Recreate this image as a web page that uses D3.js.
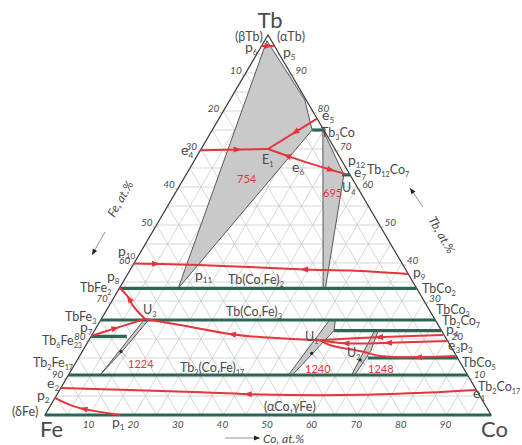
<!DOCTYPE html>
<html>
<head>
<meta charset="utf-8">
<script src="https://cdn.jsdelivr.net/npm/d3@7"></script>
<style>
  html, body { margin: 0; padding: 0; background: #fff; }
  svg { display: block; }
  text { font-family: Lato, "Open Sans", sans-serif; fill: #4a4a4a; }
</style>
</head>
<body>
<svg id="chart" width="522" height="445"></svg>
<script>
// ---- Data: compositions as [Co at.%, Tb at.%] (Fe = remainder) ----
const tickValues = [10, 20, 30, 40, 50, 60, 70, 80, 90];

// Compound / solid-solution lines
const lineTb3Co      = [[22.4, 75], [25, 75]];
const lineTb12Co7    = [[35.0, 63.2], [36.8, 63.2]];
const lineTbCoFe2    = [[0, 33.33], [66.67, 33.33]];
const lineTbCoFe3    = [[0, 25], [75, 25]];
const lineTb2Co7     = [[53.7, 22.22], [77.78, 22.22]];
const lineTb6Fe23    = [[0, 20.69], [8.0, 20.69]];
const lineTbCo5      = [[64.9, 15.0], [85.0, 15.0]];
const lineTb2CoFe17  = [[0, 10.53], [89.47, 10.53]];
const lineCoFe       = [[0, 0], [100, 0]];

// Three-phase fields
const field754  = [[0.5, 98.5], [16.8, 82.9], [22.4, 75], [13.2, 33.33]];
const field695  = [[24.8, 75], [35.4, 63.2], [46.2, 33.33], [45.7, 33.33]];
const field1224 = [[7.1, 10.53], [9.7, 25], [10.7, 25], [9.1, 17.6]];
const field1240 = [[49.3, 10.53], [51.3, 25], [52.6, 25], [53.7, 22.22], [50.2, 10.53]];
const field1248 = [[63.5, 10.53], [62.8, 22.22], [63.6, 22.22], [64.6, 17.0], [64.2, 10.53]];

// Invariant temperatures (°C) and their marker points
const invariantTemps = ["754", "695", "1224", "1240", "1248"];
const dots = [[8.7, 16.7], [51.7, 16.2], [63.4, 14.5]];

// Monovariant liquidus valleys
const curveP6P5  = [[0, 97.1], [2.9, 97.1]];
const curveE5E1  = [[22, 78], [15, 70]];
const curveE4E1  = [[0, 69.7], [15, 70]];
const curveE1U4  = [[15, 70], [20.2, 68.2], [25.0, 66.6], [35.6, 63.4]];
const curveP10P9 = [[0, 39.9], [14.6, 39.5], [39.1, 38.3], [49.4, 38.0], [62.9, 37.1]];
const curveP8U3  = [[0, 33.5], [3.1, 31.05], [5.4, 28.7], [8.0, 26.6], [9.8, 25.26]];
const curveP7U3  = [[0, 20.8], [4.3, 22.8], [9.8, 25.26]];
const curveU3U1  = [[9.8, 25.26], [18.4, 23.7], [31.55, 21.2], [42.6, 20.2], [51.8, 19.7]];
const curveP4U1  = [[78.7, 21.05], [64.1, 20.45], [51.8, 19.7]];
const curveE3U1  = [[80.7, 19.5], [67.4, 19.0], [57.8, 18.87], [51.8, 19.7]];
const curveP3U1  = [[84.2, 15.5], [76.5, 15.2], [67.35, 15.53], [63.0, 16.66], [54.7, 18.4], [51.8, 19.7]];
const curveE2E1  = [[0, 7.1], [32.0, 6.0], [45.5, 5.4], [68.0, 5.3], [83.0, 5.9], [93.4, 6.6]];
const curveP2P1  = [[0, 4.5], [5.6, 2.2], [16.9, 0]];

// arrows: [curve, fraction along curve, direction (+1 forward, -1 backward)]
const arrows = [
  [curveP6P5, 0.55, 1],
  [curveE5E1, 0.45, 1],
  [curveE4E1, 0.55, 1],
  [curveE1U4, 0.25, -1],
  [curveE1U4, 0.82, 1],
  [curveP10P9, 0.08, 1],
  [curveP10P9, 0.62, -1],
  [curveP8U3, 0.35, -1],
  [curveP7U3, 0.45, 1],
  [curveU3U1, 0.5, -1],
  [curveP4U1, 0.52, 1],
  [curveE3U1, 0.47, 1],
  [curveE3U1, 0.8, 1],
  [curveP3U1, 0.27, 1],
  [curveE2E1, 0.45, -1],
  [curveP2P1, 0.45, -1]
];

// ---- Ternary projection built on d3 linear scales ----
const xScale = d3.scaleLinear().domain([0, 100]).range([45, 491]);
const yScale = d3.scaleLinear().domain([0, 100]).range([415, 35]);
const P = ([co, tb]) => [xScale(co + tb / 2), yScale(tb)];

const svg = d3.select("#chart");
const RED = "#e5343d", GREEN = "#2d6656", GRAY_FILL = "#c9c9c9";

// Grid (5 at.% step) in three directions
const grid = svg.append("g").attr("stroke", "#c4c4c4").attr("stroke-width", 0.7);
for (let i = 5; i < 100; i += 5) {
  const segs = [
    [[0, i], [100 - i, i]],          // constant Tb
    [[i, 0], [i, 100 - i]],          // constant Co
    [[100 - i, 0], [0, 100 - i]]     // constant Fe
  ];
  segs.forEach(s => {
    const a = P(s[0]), b = P(s[1]);
    grid.append("line").attr("x1", a[0]).attr("y1", a[1]).attr("x2", b[0]).attr("y2", b[1]);
  });
}

// Three-phase fields
const polyLine = d3.line().x(d => P(d)[0]).y(d => P(d)[1]);
[field754, field695, field1224, field1240, field1248].forEach(f => {
  svg.append("path").attr("d", polyLine(f) + "Z")
    .attr("fill", GRAY_FILL).attr("stroke", "#4a4a4a").attr("stroke-width", 0.9);
});

// Triangle outline
svg.append("path").attr("d", polyLine([[0, 0], [100, 0], [0, 100]]) + "Z")
  .attr("fill", "none").attr("stroke", "#3a3a3a").attr("stroke-width", 1.2);

// Compound lines
[lineTb3Co, lineTb12Co7, lineTbCoFe2, lineTbCoFe3, lineTb2Co7, lineTb6Fe23, lineTbCo5, lineTb2CoFe17, lineCoFe]
  .forEach(l => {
    svg.append("path").attr("d", polyLine(l)).attr("stroke", GREEN)
      .attr("stroke-width", 3.2).attr("fill", "none");
  });

// Liquidus valleys
const curveGen = d3.line().x(d => P(d)[0]).y(d => P(d)[1]).curve(d3.curveCatmullRom.alpha(0.5));
const curveNodes = new Map();
[curveP6P5, curveE5E1, curveE4E1, curveE1U4, curveP10P9, curveP8U3, curveP7U3, curveU3U1,
 curveP4U1, curveE3U1, curveP3U1, curveE2E1, curveP2P1].forEach(c => {
  const node = svg.append("path").attr("d", curveGen(c)).attr("stroke", RED)
    .attr("stroke-width", 2).attr("fill", "none").node();
  curveNodes.set(c, node);
});

// Arrowheads
arrows.forEach(([c, t, dir]) => {
  const node = curveNodes.get(c);
  const L = node.getTotalLength();
  const p = node.getPointAtLength(L * t);
  const q = node.getPointAtLength(Math.min(L, Math.max(0, L * t + dir * 1.5)));
  const a = Math.atan2(q.y - p.y, q.x - p.x);
  const len = 8, w = 3;
  const tip = [p.x + Math.cos(a) * len / 2, p.y + Math.sin(a) * len / 2];
  const base = [p.x - Math.cos(a) * len / 2, p.y - Math.sin(a) * len / 2];
  const l = [base[0] - Math.sin(a) * w, base[1] + Math.cos(a) * w];
  const r = [base[0] + Math.sin(a) * w, base[1] - Math.cos(a) * w];
  svg.append("path").attr("d", `M${tip}L${l}L${r}Z`).attr("fill", RED);
});

// Invariant markers
dots.forEach(d => {
  const [x, y] = P(d);
  svg.append("circle").attr("cx", x).attr("cy", y).attr("r", 1.6).attr("fill", "#222");
  svg.append("line").attr("x1", x).attr("y1", y).attr("x2", x + 5).attr("y2", y + 5)
    .attr("stroke", "#666").attr("stroke-width", 0.6);
});

// Tick labels
const tickG = svg.append("g").attr("font-size", 10).attr("font-style", "italic");
tickValues.forEach(v => {
  // bottom: Co
  let [x, y] = P([v, 0]);
  tickG.append("text").attr("x", x - 1).attr("y", y + 13).attr("text-anchor", "middle").text(v);
  // left: Fe
  [x, y] = P([0, 100 - v]);
  tickG.append("text").attr("x", x - 4).attr("y", y + 1).attr("text-anchor", "end").text(v);
  tickG.append("line").attr("x1", x - 3.5).attr("y1", y + 2).attr("x2", x).attr("y2", y + 2)
    .attr("stroke", "#777").attr("stroke-width", 0.6);
  // right: Tb
  [x, y] = P([100 - v, v]);
  tickG.append("text").attr("x", x + 5).attr("y", y + 1).attr("text-anchor", "start").text(v);
  tickG.append("line").attr("x1", x).attr("y1", y + 2).attr("x2", x + 4).attr("y2", y + 2)
    .attr("stroke", "#777").attr("stroke-width", 0.6);
});

// Text helper with subscripts: "Tb_{2}Co_{17}"
function label(x, y, str, opts = {}) {
  const size = opts.size || 12.5;
  const t = svg.append("text").attr("x", x).attr("y", y)
    .attr("font-size", size)
    .attr("text-anchor", opts.anchor || "start");
  if (opts.fill) t.style("fill", opts.fill);
  const parts = str.split(/(_\{[^}]*\})/).filter(p => p.length);
  let lowered = false;
  parts.forEach(p => {
    if (p.startsWith("_{")) {
      t.append("tspan").attr("font-size", size * 0.58).attr("dy", 3).text(p.slice(2, -1));
      lowered = true;
    } else {
      const sp = t.append("tspan").text(p);
      if (lowered) { sp.attr("dy", -3); lowered = false; }
    }
  });
  return t;
}

// Corner labels
label(270, 28, "Tb", { size: 22, anchor: "middle" });
label(40, 437, "Fe", { size: 22 });
label(481, 437, "Co", { size: 22 });

// Phase / point labels
const s = 12.5, ps = 14;
label(235, 41, "(βTb)", { size: s });
label(277, 41, "(αTb)", { size: s });
label(245, 52, "p_{6}", { size: ps });
label(283, 57, "p_{5}", { size: ps });
label(322, 120, "e_{5}", { size: ps });
label(321, 137, "Tb_{3}Co", { size: s });
label(181, 155, "e_{4}", { size: ps });
label(262, 164, "E_{1}", { size: s });
label(292, 172, "e_{6}", { size: ps });
label(348, 165, "p_{12}", { size: ps });
label(354, 177, "e_{7}", { size: ps });
label(367, 174, "Tb_{12}Co_{7}", { size: s });
label(342, 192, "U_{4}", { size: s });
label(118, 256, "p_{10}", { size: ps });
label(107, 281, "p_{8}", { size: ps });
label(80, 292, "TbFe_{2}", { size: s });
label(195, 280, "p_{11}", { size: ps });
label(228, 284, "Tb(Co,Fe)_{2}", { size: s });
label(413, 277, "p_{9}", { size: ps });
label(422, 293, "TbCo_{2}", { size: s });
label(65, 321, "TbFe_{3}", { size: s });
label(143, 314, "U_{3}", { size: s });
label(226, 316, "Tb(Co,Fe)_{3}", { size: s });
label(436, 314, "TbCo_{3}", { size: s });
label(442, 325, "Tb_{2}Co_{7}", { size: s });
label(80, 332, "p_{7}", { size: ps });
label(446, 334, "p_{4}", { size: ps });
label(305, 341, "U_{1}", { size: s });
label(448, 350, "e_{3}p_{3}", { size: ps });
label(42, 345, "Tb_{6}Fe_{23}", { size: s });
label(347, 357, "U_{2}", { size: s });
label(462, 367, "TbCo_{5}", { size: s });
label(33, 367, "Tb_{2}Fe_{17}", { size: s });
label(180, 372, "Tb_{2}(Co,Fe)_{17}", { size: s });
label(478, 391, "Tb_{2}Co_{17}", { size: s });
label(47, 388, "e_{2}", { size: ps });
label(473, 398, "e_{1}", { size: ps });
label(37, 400, "p_{2}", { size: ps });
label(12, 416, "(δFe)", { size: s });
label(264, 411, "(αCo,γFe)", { size: s });
label(112, 427, "p_{1}", { size: ps });

// Invariant temperatures
const tPos = [[237, 183], [323, 197], [128, 368], [305, 373], [368, 373]];
invariantTemps.forEach((t, i) => label(tPos[i][0], tPos[i][1], t, { size: 11, fill: RED }));

// Axis titles with arrows
function arrowLine(x1, y1, x2, y2) {
  svg.append("line").attr("x1", x1).attr("y1", y1).attr("x2", x2).attr("y2", y2)
    .attr("stroke", "#777").attr("stroke-width", 0.8);
  const a = Math.atan2(y2 - y1, x2 - x1), len = 6, w = 2.5;
  const bx = x2 - Math.cos(a) * len, by = y2 - Math.sin(a) * len;
  svg.append("path").attr("d",
    `M${x2},${y2}L${bx - Math.sin(a) * w},${by + Math.cos(a) * w}L${bx + Math.sin(a) * w},${by - Math.cos(a) * w}Z`)
    .attr("fill", "#222");
}
svg.append("text").attr("transform", "translate(124,201) rotate(-60)")
  .attr("text-anchor", "middle").attr("font-size", 12).attr("font-style", "italic").text("Fe, at.%");
arrowLine(105, 232, 92, 255);
svg.append("text").attr("transform", "translate(438,237) rotate(60)")
  .attr("text-anchor", "middle").attr("font-size", 12).attr("font-style", "italic").text("Tb, at.%");
arrowLine(423, 207, 410, 188);
svg.append("text").attr("x", 263).attr("y", 443).attr("font-size", 12).attr("font-style", "italic").text("Co, at.%");
arrowLine(225, 438, 260, 438);
</script>
</body>
</html>
